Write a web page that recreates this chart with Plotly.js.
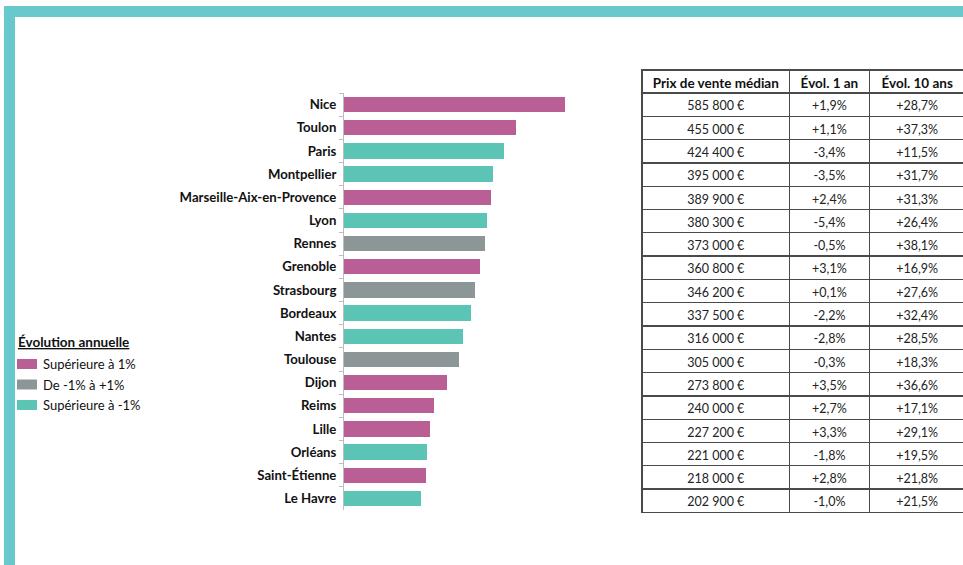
<!DOCTYPE html>
<html>
<head>
<meta charset="utf-8">
<script src="https://cdn.plot.ly/plotly-3.0.1.min.js"></script>
<style>
html,body{margin:0;padding:0;overflow:hidden;background:#fff;}
#chart{width:966px;height:565px;}
</style>
</head>
<body>
<div id="chart"></div>
<script>
const villes = ["Nice","Toulon","Paris","Montpellier","Marseille-Aix-en-Provence","Lyon","Rennes","Grenoble","Strasbourg","Bordeaux","Nantes","Toulouse","Dijon","Reims","Lille","Orléans","Saint-Étienne","Le Havre"];
const prix = [585800,455000,424400,395000,389900,380300,373000,360800,346200,337500,316000,305000,273800,240000,227200,221000,218000,202900];
const evol1 = ["+1,9%","+1,1%","-3,4%","-3,5%","+2,4%","-5,4%","-0,5%","+3,1%","+0,1%","-2,2%","-2,8%","-0,3%","+3,5%","+2,7%","+3,3%","-1,8%","+2,8%","-1,0%"];
const evol10 = ["+28,7%","+37,3%","+11,5%","+31,7%","+31,3%","+26,4%","+38,1%","+16,9%","+27,6%","+32,4%","+28,5%","+18,3%","+36,6%","+17,1%","+29,1%","+19,5%","+21,8%","+21,5%"];
const groupe = ["haut","haut","bas","bas","haut","bas","stable","haut","stable","bas","bas","stable","haut","haut","haut","bas","haut","bas"];
const groupes = ["haut","stable","bas"];
const groupeLabels = ["Supérieure à 1%","De -1% à +1%","Supérieure à -1%"];
const groupeCouleurs = ["#BA5F96","#8C9696","#5BC4B4"];
const legendeTitre = "Évolution annuelle";
const entetes = ["Prix de vente médian","Évol. 1 an","Évol. 10 ans"];

const W = 966, H = 565;
const fx = p => p / W;
const fy = p => 1 - p / H;
const FONT = "Lato, 'Open Sans', sans-serif";

function fmtPrix(v){
  return String(v).replace(/\B(?=(\d{3})+(?!\d))/g, " ") + " €";
}

const traces = groupes.map((g, gi) => {
  const ys = [], xs = [];
  villes.forEach((v, i) => { if (groupe[i] === g) { ys.push(v); xs.push(prix[i]); } });
  return {
    type: "bar", orientation: "h", x: xs, y: ys, name: groupeLabels[gi],
    marker: {color: groupeCouleurs[gi], line: {width: 0}},
    hoverinfo: "x+y"
  };
});

traces.push({
  type: "table",
  domain: {x: [fx(642), 1], y: [fy(540), fy(70)]},
  columnwidth: [148, 80, 96],
  header: {
    values: entetes,
    align: "center",
    height: 23,
    line: {color: "#4a4a4a", width: 1.3},
    fill: {color: "#ffffff"},
    font: {family: FONT, size: 13.5, color: "#111", weight: "bold"}
  },
  cells: {
    values: [prix.map(fmtPrix), evol1, evol10],
    align: "center",
    height: 23.3,
    line: {color: "#4a4a4a", width: 1.3},
    fill: {color: "#ffffff"},
    font: {family: FONT, size: 12.5, color: "#222"}
  }
});

// manual legend (swatches + labels)
const shapes = [
  {type: "rect", xref: "paper", yref: "paper", x0: fx(4), x1: fx(15), y0: 0, y1: fy(6), fillcolor: "#67C9CC", line: {width: 0}, layer: "above"},
  {type: "rect", xref: "paper", yref: "paper", x0: fx(4), x1: 1, y0: fy(17), y1: fy(6), fillcolor: "#67C9CC", line: {width: 0}, layer: "above"}
];
const annotations = [
  {xref: "paper", yref: "paper", x: fx(16), y: fy(342), xanchor: "left", yanchor: "middle", showarrow: false,
   text: "<b><u>" + legendeTitre + "</u></b>", font: {family: FONT, size: 13.5, color: "#111"}}
];
groupeLabels.forEach((lab, i) => {
  const cy = 364 + i * 20.5;
  shapes.push({type: "rect", xref: "paper", yref: "paper", x0: fx(17), x1: fx(37), y0: fy(cy + 5), y1: fy(cy - 5),
    fillcolor: groupeCouleurs[i], line: {width: 0}});
  annotations.push({xref: "paper", yref: "paper", x: fx(41), y: fy(cy), xanchor: "left", yanchor: "middle", showarrow: false,
    text: lab, font: {family: FONT, size: 13, color: "#111"}});
});

const layout = {
  width: W, height: H,
  margin: {l: 0, r: 0, t: 0, b: 0},
  paper_bgcolor: "#fff", plot_bgcolor: "#fff",
  font: {family: FONT, color: "#111"},
  barmode: "stack",
  bargap: 0.34,
  showlegend: false,
  xaxis: {
    domain: [fx(344), fx(620)],
    range: [0, 732000],
    visible: false
  },
  yaxis: {
    domain: [fy(510), fy(93)],
    type: "category",
    categoryorder: "array",
    categoryarray: villes,
    autorange: "reversed",
    showline: true, linecolor: "#bdbdbd", linewidth: 1,
    ticks: "outside", tickson: "boundaries", ticklen: 4, tickcolor: "#bdbdbd", tickwidth: 1,
    showgrid: false, zeroline: false,
    ticklabelstandoff: 4,
    tickfont: {family: FONT, size: 13.2, color: "#111", weight: "bold"}
  },
  shapes: shapes,
  annotations: annotations
};

Plotly.newPlot("chart", traces, layout, {displayModeBar: false, staticPlot: true});
</script>
</body>
</html>
